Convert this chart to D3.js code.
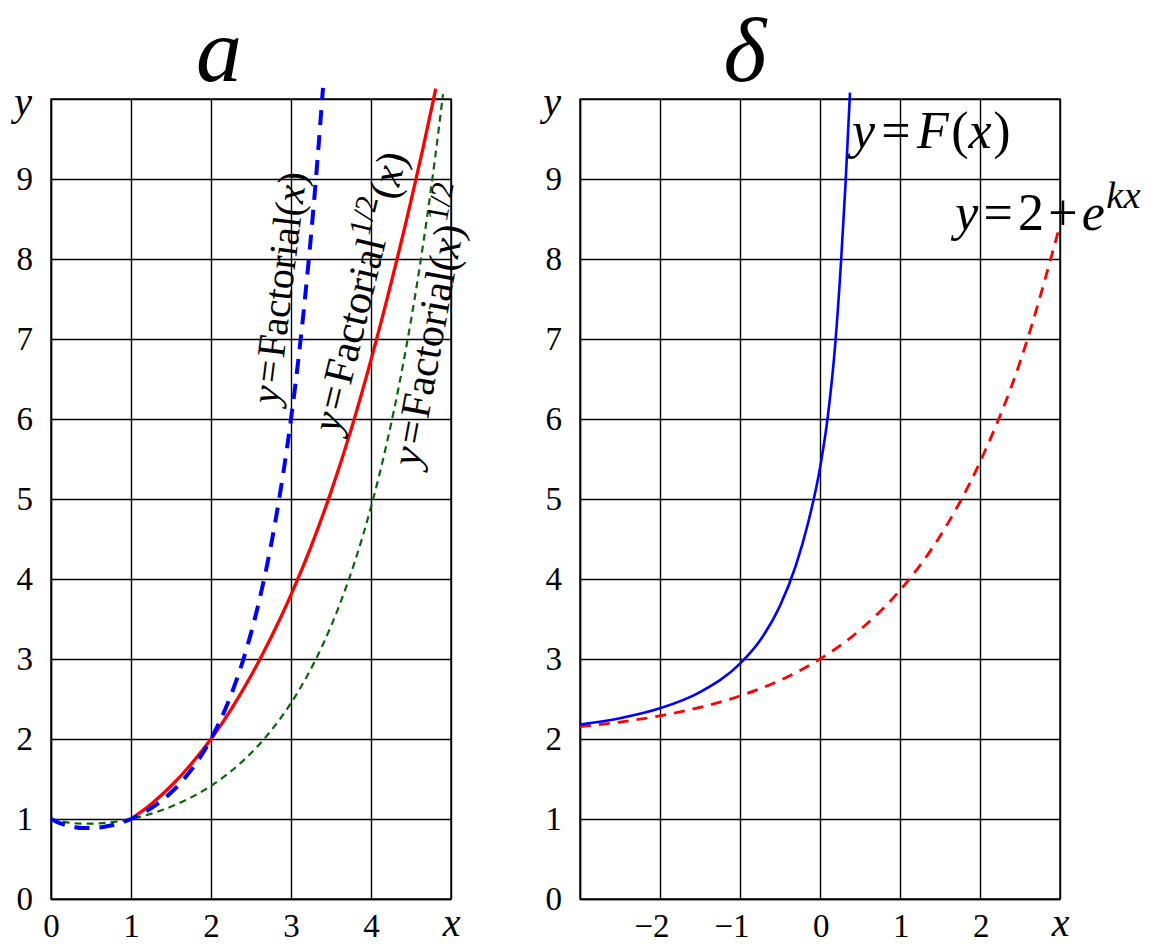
<!DOCTYPE html>
<html>
<head>
<meta charset="utf-8">
<script src="https://cdn.jsdelivr.net/npm/d3@7"></script>
<style>
  body { margin: 0; background: #fff; }
  svg, svg text { font-family: "Liberation Serif", "DejaVu Serif", serif; }
  .tick text { font-size: 33px; fill: #000; }
  .tick line, .domain { stroke: #000; stroke-width: 1.4; }
</style>
</head>
<body>
<svg id="chart" width="1158" height="948"></svg>
<script>
// --- panel a: factorial and its two "square roots" ---
const factX = [0, 0.1, 0.2, 0.3, 0.4, 0.5, 0.6, 0.7, 0.8, 0.9, 1, 1.2, 1.4, 1.6, 1.8, 2, 2.2, 2.4, 2.6, 2.8, 3, 3.1, 3.2, 3.3, 3.4];
const factY = [1, 0.951, 0.918, 0.898, 0.887, 0.886, 0.894, 0.909, 0.931, 0.962, 1, 1.102, 1.242, 1.43, 1.677, 2, 2.424, 2.981, 3.717, 4.694, 6, 6.81, 7.76, 8.86, 10.14];

const halfX = [1, 1.25, 1.5, 1.75, 2, 2.25, 2.5, 2.75, 3, 3.25, 3.5, 3.75, 4, 4.25, 4.5, 4.65, 4.81];
const halfY = [1, 1.184, 1.412, 1.685, 2, 2.368, 2.79, 3.268, 3.802, 4.405, 5.089, 5.864, 6.739, 7.695, 8.726, 9.386, 10.13];

const sqrtX = [0, 0.2, 0.4, 0.6, 0.8, 1, 1.2, 1.4, 1.6, 1.8, 2, 2.2, 2.4, 2.6, 2.8, 3, 3.2, 3.4, 3.6, 3.8, 4, 4.2, 4.4, 4.6, 4.8, 4.9];
const sqrtY = [1, 0.958, 0.942, 0.945, 0.965, 1, 1.05, 1.115, 1.196, 1.295, 1.414, 1.557, 1.727, 1.928, 2.167, 2.449, 2.785, 3.184, 3.658, 4.224, 4.899, 5.708, 6.678, 7.846, 9.253, 10.06];

// --- panel delta ---
const fX = [-3, -2.5, -2, -1.5, -1, -0.75, -0.5, -0.3, -0.15, 0, 0.1, 0.19, 0.262, 0.318, 0.375];
const fY = [2.181, 2.26, 2.383, 2.586, 2.942, 3.231, 3.665, 4.175, 4.697, 5.387, 6.05, 6.93, 7.95, 8.92, 10.08];

const expX = [-3, -2.5, -2, -1.5, -1, -0.5, 0, 0.5, 1, 1.5, 2, 2.5, 3];
const expY = [2.156, 2.212, 2.289, 2.395, 2.538, 2.733, 3, 3.363, 3.859, 4.535, 5.463, 6.711, 8.424];

// ticks
const yTicks = [0, 1, 2, 3, 4, 5, 6, 7, 8, 9, 10];
const yTickLabels = ["0", "1", "2", "3", "4", "5", "6", "7", "8", "9", "y"];
const aTicksX = [0, 1, 2, 3, 4, 5];
const aTickLabels = ["0", "1", "2", "3", "4", "x"];
const dTicksX = [-3, -2, -1, 0, 1, 2, 3];
const dTickLabels = ["", "\u22122", "\u22121", "0", "1", "2", "x"];

const FONT = "'Liberation Serif', 'DejaVu Serif', serif";
const svg = d3.select("#chart").attr("font-family", FONT);

const y = d3.scaleLinear().domain([0, 10]).range([899, 99]);
const xA = d3.scaleLinear().domain([0, 5]).range([51, 451]);
const xD = d3.scaleLinear().domain([-3, 3]).range([580, 1060]);

function grid(x, ticksX, labelsX, shiftNeg) {
  const w = x.range()[1] - x.range()[0];
  const h = y.range()[0] - y.range()[1];

  const gx = svg.append("g")
    .attr("transform", `translate(0,${y(0)})`)
    .call(d3.axisBottom(x).tickValues(ticksX).tickSize(-h).tickSizeOuter(0).tickPadding(15)
      .tickFormat((d, i) => labelsX[i]))
    .attr("font-family", FONT).attr("font-size", null);
  gx.selectAll(".tick text").filter(d => d === x.domain()[1])
    .attr("font-style", "italic").style("font-size", "40px").attr("dy", "0.55em");
  if (shiftNeg) {
    // digit stays on the grid line, the minus sign hangs to the left
    gx.selectAll(".tick text").filter(d => d !== x.domain()[1])
      .attr("text-anchor", "end").attr("dx", 9);
  }

  const gy = svg.append("g")
    .attr("transform", `translate(${x.range()[0]},0)`)
    .call(d3.axisLeft(y).tickValues(yTicks).tickSize(-w).tickSizeOuter(0).tickPadding(18)
      .tickFormat((d, i) => yTickLabels[i]))
    .attr("font-family", FONT).attr("font-size", null);
  gy.selectAll(".tick text").filter(d => d === 10)
    .attr("font-style", "italic").style("font-size", "40px")
    .attr("text-anchor", "middle").attr("x", -28).attr("dy", 15);

  svg.append("rect")
    .attr("x", x.range()[0]).attr("y", y.range()[1])
    .attr("width", w).attr("height", h)
    .attr("fill", "none").attr("stroke", "#000").attr("stroke-width", 1.4);
}

grid(xA, aTicksX, aTickLabels, false);
grid(xD, dTicksX, dTickLabels, true);

function curve(x, xs, ys, color, width, dash) {
  const line = d3.line().x(i => x(xs[i])).y(i => y(ys[i])).curve(d3.curveMonotoneX);
  svg.append("path")
    .datum(d3.range(xs.length))
    .attr("fill", "none")
    .attr("stroke", color)
    .attr("stroke-width", width)
    .attr("stroke-dasharray", dash)
    .attr("d", line);
}

curve(xA, sqrtX, sqrtY, "#0a640a", 2.2, "7,5");
curve(xA, halfX, halfY, "#f00", 3.3, null);
curve(xA, factX, factY, "#00f", 4, "15,10");

curve(xD, expX, expY, "#f00", 2.8, "11,8");
curve(xD, fX, fY, "#00f", 2.6, null);

// math-ish text made of tspans
function mathText(x0, y0, angle, size, parts) {
  const t = svg.append("text")
    .attr("transform", `translate(${x0},${y0}) rotate(${angle})`)
    .attr("font-family", FONT)
    .attr("font-size", size)
    .attr("fill", "#000");
  parts.forEach(p => {
    const ts = t.append("tspan").text(p.t);
    if (p.it) ts.attr("font-style", "italic");
    if (p.dx) ts.attr("dx", p.dx * size);
    if (p.sup) ts.attr("font-size", size * 0.74).attr("dy", -size * 0.42);
    if (p.down) ts.attr("dy", size * 0.42);
  });
  return t;
}

svg.append("text").attr("x", 219).attr("y", 81).attr("text-anchor", "middle")
  .attr("font-family", FONT).attr("font-size", 92).attr("font-style", "italic").text("a");
svg.append("text").attr("x", 745).attr("y", 81).attr("text-anchor", "middle")
  .attr("font-family", FONT).attr("font-size", 92).attr("font-style", "italic").text("\u03b4");

mathText(278, 405, -83, 40, [
  { t: "y", it: true }, { t: "=", dx: 0.08 }, { t: "Factorial", dx: 0.08 },
  { t: "(" }, { t: "x", it: true }, { t: ")" }
]);
mathText(339, 434, -76.3, 42, [
  { t: "y", it: true }, { t: "=", dx: 0.08 }, { t: "Factorial", dx: 0.08 },
  { t: "1/2", sup: true }, { t: "(", down: true, dx: 0.04 }, { t: "x", it: true }, { t: ")" }
]);
mathText(419, 468, -79.5, 42, [
  { t: "y", it: true }, { t: "=", dx: 0.08 }, { t: "Factorial", dx: 0.08 },
  { t: "(" }, { t: "x", it: true }, { t: ")" }, { t: "1/2", sup: true, dx: 0.03 }
]);

mathText(xD(0.4), y(9.39), 0, 52, [
  { t: "y", it: true }, { t: "=", dx: 0.12 }, { t: "F", it: true, dx: 0.12 },
  { t: "(", dx: 0.05 }, { t: "x", it: true }, { t: ")", dx: 0.03 }
]);
mathText(xD(1.69), y(8.36), 0, 52, [
  { t: "y", it: true }, { t: "=", dx: 0.1 }, { t: "2", dx: 0.1 }, { t: "+", dx: 0.08 },
  { t: "e", it: true, dx: 0.08 }, { t: "kx", it: true, sup: true, dx: 0.03 }
]);
</script>
</body>
</html>
